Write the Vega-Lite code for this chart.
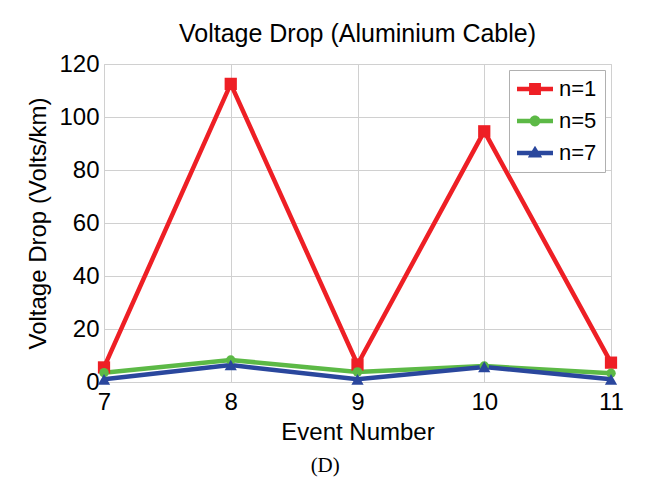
{
  "$schema": "https://vega.github.io/schema/vega-lite/v6.json",
  "padding": {"left": 26, "top": 21, "right": 30, "bottom": 6},
  "background": "white",
  "title": {"text": "(D)", "orient": "bottom", "anchor": "middle", "font": "Liberation Serif", "fontSize": 21, "fontWeight": "normal", "color": "black", "offset": 10},
  "vconcat": [
    {
      "width": 507,
      "height": 318,
      "title": {"text": "Voltage Drop (Aluminium Cable)", "font": "Liberation Sans", "fontSize": 25, "fontWeight": "normal", "color": "black", "anchor": "middle", "offset": 5},
      "data": {
        "values": [
          {"event": 7, "drop": 5.5, "series": "n=1"},
          {"event": 8, "drop": 112.5, "series": "n=1"},
          {"event": 9, "drop": 6.6, "series": "n=1"},
          {"event": 10, "drop": 94.6, "series": "n=1"},
          {"event": 11, "drop": 7.3, "series": "n=1"},
          {"event": 7, "drop": 3.5, "series": "n=5"},
          {"event": 8, "drop": 8.3, "series": "n=5"},
          {"event": 9, "drop": 3.8, "series": "n=5"},
          {"event": 10, "drop": 6.0, "series": "n=5"},
          {"event": 11, "drop": 3.3, "series": "n=5"},
          {"event": 7, "drop": 1.0, "series": "n=7"},
          {"event": 8, "drop": 6.4, "series": "n=7"},
          {"event": 9, "drop": 1.0, "series": "n=7"},
          {"event": 10, "drop": 5.7, "series": "n=7"},
          {"event": 11, "drop": 1.0, "series": "n=7"}
        ]
      },
      "encoding": {
        "x": {
          "field": "event", "type": "quantitative",
          "scale": {"domain": [7, 11], "nice": false, "zero": false},
          "axis": {"values": [7, 8, 9, 10, 11], "title": "Event Number", "labelPadding": 8, "titlePadding": 6, "labelFlush": false}
        },
        "y": {
          "field": "drop", "type": "quantitative",
          "scale": {"domain": [0, 120], "nice": false},
          "axis": {"values": [0, 20, 40, 60, 80, 100, 120], "title": "Voltage Drop (Volts/km)", "labelPadding": 5, "titlePadding": 8}
        },
        "color": {
          "field": "series", "type": "nominal",
          "scale": {"domain": ["n=1", "n=5", "n=7"], "range": ["#ee1f25", "#5cb946", "#2a479d"]},
          "legend": {
            "title": null,
            "orient": "top-right",
            "offset": 6,
            "fillColor": "white",
            "strokeColor": "#b0b0b0",
            "padding": 8,
            "symbolSize": 1296,
            "labelFont": "Liberation Sans",
            "labelFontSize": 22,
            "labelColor": "black",
            "labelOffset": 6,
            "rowPadding": 10,
            "encode": {
              "symbols": {
                "update": {
                  "shape": {"signal": "datum.value == 'n=1' ? 'M-1,-0.125H1V0.125H-1Z M-0.33,-0.33H0.33V0.33H-0.33Z' : datum.value == 'n=5' ? 'M-1,-0.125H1V0.125H-1Z M-0.3,0A0.3,0.3 0 1,1 0.3,0A0.3,0.3 0 1,1 -0.3,0Z' : 'M-1,-0.125H1V0.125H-1Z M0,-0.4L0.4,0.25H-0.4Z'"},
                  "fill": {"scale": "color", "field": "value"},
                  "stroke": {"value": "transparent"},
                  "strokeWidth": {"value": 0},
                  "opacity": {"value": 1},
                  "size": {"value": 1296},
                  "y": {"value": 11}
                }
              },
              "labels": {
                "update": {
                  "y": {"value": 11}
                }
              }
            }
          }
        }
      },
      "layer": [
        {"mark": {"type": "line", "strokeWidth": 4.5}},
        {
          "transform": [{"filter": "datum.series == 'n=1'"}],
          "mark": {"type": "point", "shape": "square", "size": 150, "filled": true, "opacity": 1}
        },
        {
          "transform": [{"filter": "datum.series == 'n=5'"}],
          "mark": {"type": "point", "shape": "circle", "size": 90, "filled": true, "opacity": 1}
        },
        {
          "transform": [{"filter": "datum.series == 'n=7'"}],
          "mark": {"type": "point", "shape": "triangle-up", "size": 150, "filled": true, "opacity": 1}
        }
      ]
    }
  ],
  "config": {
    "view": {"stroke": "#d0d0d0", "strokeWidth": 1},
    "axis": {
      "labelFont": "Liberation Sans", "labelFontSize": 24, "labelColor": "black",
      "titleFont": "Liberation Sans", "titleFontSize": 24, "titleFontWeight": "normal", "titleColor": "black",
      "gridColor": "#d0d0d0", "gridWidth": 1, "gridOpacity": 1,
      "domain": false, "ticks": false, "tickSize": 0
    }
  }
}
